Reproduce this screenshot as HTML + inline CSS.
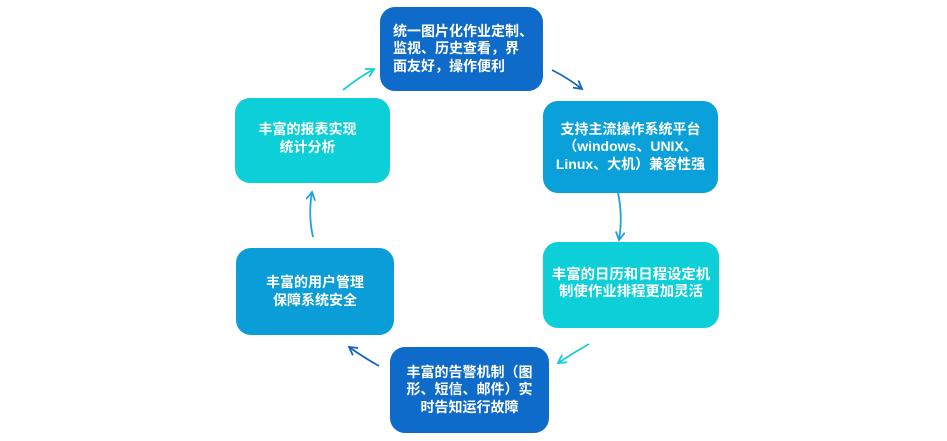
<!DOCTYPE html>
<html>
<head>
<meta charset="utf-8">
<style>
html,body{margin:0;padding:0;background:#fff;}
body{width:947px;height:441px;position:relative;overflow:hidden;font-family:"Liberation Sans","Noto Sans CJK SC",sans-serif;}
.b{position:absolute;border-radius:15px;color:#fff;font-weight:bold;font-size:14px;line-height:17.5px;box-sizing:border-box;display:flex;flex-direction:column;justify-content:center;}
.c{text-align:center;}
svg{position:absolute;left:0;top:0;}
</style>
</head>
<body>
<svg width="947" height="441" viewBox="0 0 947 441">
<defs>
<marker id="m1" markerWidth="12" markerHeight="12" refX="9" refY="5" orient="auto" markerUnits="userSpaceOnUse"><path d="M1,0.5 L9,5 L1,9.5" fill="none" stroke="#1565c0" stroke-width="1.8"/></marker>
<marker id="m2" markerWidth="12" markerHeight="12" refX="9" refY="5" orient="auto" markerUnits="userSpaceOnUse"><path d="M1,0.5 L9,5 L1,9.5" fill="none" stroke="#1aa3e0" stroke-width="1.8"/></marker>
<marker id="m3" markerWidth="12" markerHeight="12" refX="9" refY="5" orient="auto" markerUnits="userSpaceOnUse"><path d="M1,0.5 L9,5 L1,9.5" fill="none" stroke="#14cdd8" stroke-width="1.8"/></marker>
</defs>
<path d="M552,70 Q568,78 582,89" fill="none" stroke="#1565c0" stroke-width="1.8" marker-end="url(#m1)"/>
<path d="M618,193 Q623,216 619,240" fill="none" stroke="#1aa3e0" stroke-width="1.8" marker-end="url(#m2)"/>
<path d="M589,344 Q573,353 558,363" fill="none" stroke="#14cdd8" stroke-width="1.8" marker-end="url(#m3)"/>
<path d="M379,366 Q363,357 349,347" fill="none" stroke="#1565c0" stroke-width="1.8" marker-end="url(#m1)"/>
<path d="M313,237 Q308,215 312,192" fill="none" stroke="#1aa3e0" stroke-width="1.8" marker-end="url(#m2)"/>
<path d="M343,90 Q358,78 374,69" fill="none" stroke="#14cdd8" stroke-width="1.8" marker-end="url(#m3)"/>
</svg>

<div class="b" style="left:380px;top:7px;width:163px;height:84px;background:#0f6bc9;padding-left:13px;">
<div>统一图片化作业定制、</div><div>监视、历史查看，界</div><div>面友好，操作便利</div>
</div>

<div class="b c" style="left:543px;top:101px;width:175px;height:92px;background:#0aa0da;">
<div>支持主流操作系统平台</div><div>（windows、UNIX、</div><div>Linux、大机）兼容性强</div>
</div>

<div class="b c" style="left:543px;top:242px;width:176px;height:86px;background:#0ccfd7;font-size:14.4px;padding-bottom:2px;">
<div>丰富的日历和日程设定机</div><div>制使作业排程更加灵活</div>
</div>

<div class="b c" style="left:390px;top:347px;width:159px;height:86px;background:#0f6bc9;">
<div>丰富的告警机制（图</div><div>形、短信、邮件）实</div><div>时告知运行故障</div>
</div>

<div class="b c" style="left:236px;top:248px;width:158px;height:87px;background:#0a9dd8;">
<div>丰富的用户管理</div><div>保障系统安全</div>
</div>

<div class="b c" style="left:235px;top:98px;width:155px;height:85px;background:#0ccfd7;padding-right:10px;padding-bottom:4px;">
<div>丰富的报表实现</div><div>统计分析</div>
</div>
</body>
</html>
